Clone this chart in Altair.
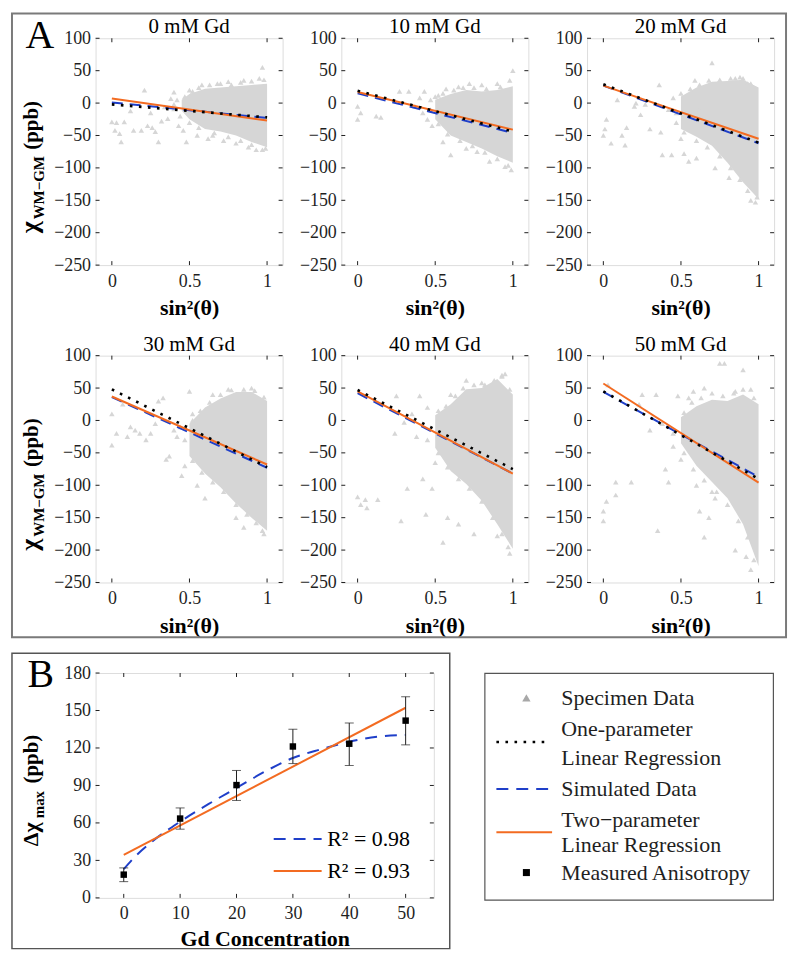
import altair as alt
import pandas as pd

FONT = "Liberation Serif"
GRAY = "#d6d6d6"
BLUE = "#1f3fc9"
ORANGE = "#f36b21"
INK = "#1f1f1f"

# ---------------- Panel A data ----------------
PANEL_TITLES = ["0 mM Gd", "10 mM Gd", "20 mM Gd", "30 mM Gd", "40 mM Gd", "50 mM Gd"]
X_TICKS = [0, 0.5, 1]
Y_TICKS = [-250, -200, -150, -100, -50, 0, 50, 100]

LINE_X = [0, 1]
ONE_PARAM_Y = [[-2, -22], [19, -44], [29, -61], [48, -72], [47, -75], [45, -90]]
SIMULATED_Y = [[1, -23], [15, -46], [27, -62], [36, -73], [42, -82], [44, -87]]
TWO_PARAM_Y = [[7, -27], [17, -41], [27, -55], [37, -68], [45, -82], [57, -96]]

# dense part of the specimen cloud: x, lower edge, upper edge
CLOUD_X = [
    [0.45, 0.5, 0.6, 0.7, 0.8, 0.9, 1.0],
    [0.5, 0.6, 0.7, 0.8, 0.9, 1.0],
    [0.5, 0.6, 0.7, 0.8, 0.9, 1.0],
    [0.5, 0.6, 0.7, 0.8, 0.9, 1.0],
    [0.5, 0.6, 0.7, 0.8, 0.9, 1.0],
    [0.5, 0.6, 0.7, 0.8, 0.9, 1.0],
]
CLOUD_LO = [
    [-12, -25, -40, -44, -50, -60, -68],
    [-25, -50, -60, -70, -82, -92],
    [-40, -52, -66, -92, -122, -148],
    [-55, -82, -103, -128, -150, -170],
    [-42, -78, -98, -124, -160, -198],
    [-35, -70, -95, -120, -160, -225],
]
CLOUD_HI = [
    [5, 14, 22, 24, 26, 28, 30],
    [5, 14, 20, 18, 20, 26],
    [10, 24, 33, 34, 36, 24],
    [-5, 20, 34, 44, 44, 30],
    [8, 25, 48, 50, 64, 40],
    [5, 22, 32, 30, 40, 25],
]
# scattered specimen triangles outside the dense part
SCATTER_X = [
    [0.0, 0.03, 0.08, 0.02, 0.05, 0.06, 0.14, 0.19, 0.21, 0.23, 0.26, 0.28, 0.30, 0.34, 0.36, 0.38,
     0.40, 0.40, 0.43, 0.46, 0.48, 0.12, 0.32, 0.25, 0.55, 0.62, 0.68, 0.75, 0.85, 0.93, 0.97, 0.99,
     0.58, 0.65, 0.72, 0.80, 0.88, 0.95, 0.50, 0.42],
    [0.0, 0.0, 0.02, 0.12, 0.15, 0.27, 0.33, 0.37, 0.40, 0.42, 0.45, 0.43, 0.47, 0.48, 0.55, 0.60,
     0.70, 0.77, 0.85, 0.57, 0.65, 0.72, 0.80, 0.95, 1.0, 0.99, 0.90, 0.52],
    [0.0, 0.01, 0.02, 0.05, 0.09, 0.12, 0.14, 0.15, 0.20, 0.21, 0.24, 0.27, 0.30, 0.36, 0.37, 0.38,
     0.42, 0.44, 0.47, 0.50, 0.52, 0.55, 0.60, 0.70, 0.72, 0.81, 0.59, 0.62, 0.45, 0.85, 0.90, 0.95,
     0.98, 0.93],
    [0.0, 0.0, 0.03, 0.07, 0.10, 0.12, 0.15, 0.18, 0.22, 0.25, 0.28, 0.30, 0.33, 0.35, 0.37, 0.40,
     0.42, 0.45, 0.50, 0.47, 0.55, 0.60, 0.80, 0.85, 0.65, 0.75, 0.90, 0.98, 0.52, 0.44],
    [0.0, 0.02, 0.05, 0.06, 0.13, 0.24, 0.25, 0.30, 0.32, 0.28, 0.38, 0.40, 0.42, 0.44, 0.48, 0.50,
     0.55, 0.58, 0.65, 0.70, 0.75, 0.95, 0.98, 0.90, 0.45, 0.35, 0.60, 0.80, 0.93],
    [0.0, 0.0, 0.02, 0.03, 0.08, 0.08, 0.18, 0.23, 0.25, 0.30, 0.34, 0.35, 0.38, 0.40, 0.42, 0.45,
     0.48, 0.55, 0.50, 0.60, 0.62, 0.65, 0.68, 0.72, 0.75, 0.78, 0.85, 0.90, 0.92, 0.95, 0.58, 0.65,
     0.70, 0.85, 0.95],
]
SCATTER_Y = [
    [-29, -30, -29, -42, -47, -60, -42, -42, 20, -35, -38, -44, -60, -6, -24, 7,
     17, -9, -35, -42, -60, -12, -28, -15, -50, -55, 30, 33, 35, -72, 55, -70,
     28, -50, -58, -62, -68, 38, 20, 5],
    [-5, -25, -15, -20, -22, 18, 18, -5, 8, -15, -25, 18, 5, -35, -60, -80,
     -70, -75, -90, 22, 25, 30, 28, -98, 50, -103, 30, 12],
    [-50, -40, -25, -62, 5, -50, -65, -38, -5, 0, -18, -2, -40, 28, -45, -80,
     -10, -80, -30, -55, -78, -90, -85, 62, -100, -115, 35, -10, 8, 38, 38, -150,
     -153, 30],
    [10, -38, -20, 25, -25, -10, -15, -20, -30, -20, -5, 30, 35, -60, -55, -15,
     -25, -85, 45, -70, -100, -120, -150, -165, 40, 48, 50, -175, 10, -10],
    [-118, -130, -122, -135, -122, -20, 38, -3, -105, -155, -25, 38, -90, -145, -105, -65,
     -188, -150, -160, 62, -175, 72, -205, -178, 20, 10, 40, 58, 68],
    [-140, -155, -125, 55, -95, -115, -95, 25, 40, -15, 40, -170, -5, -75, -95, -40,
     38, 35, -60, -100, -140, -180, -150, -120, 88, 88, -200, 78, -210, -230, 45, 50,
     -110, 45, 48],
]
# triangles along the ragged rim of the dense cloud
EDGE_X = [
    [0.47, 0.52, 0.56, 0.63, 0.70, 0.77, 0.83, 0.90, 0.98, 0.50, 0.56, 0.66, 0.75, 0.83, 0.90, 0.97, 0.44, 0.40],
    [0.50, 0.55, 0.62, 0.68, 0.75, 0.83, 0.92, 0.98, 0.52, 0.58, 0.66, 0.74, 0.82, 0.90, 0.97, 0.47],
    [0.50, 0.56, 0.62, 0.68, 0.75, 0.82, 0.88, 0.95, 0.52, 0.60, 0.67, 0.75, 0.82, 0.88, 0.93, 0.99, 0.47],
    [0.52, 0.57, 0.63, 0.70, 0.77, 0.85, 0.92, 0.98, 0.52, 0.58, 0.65, 0.72, 0.80, 0.87, 0.93, 0.97, 0.47],
    [0.52, 0.57, 0.63, 0.68, 0.75, 0.82, 0.88, 0.93, 0.98, 0.52, 0.58, 0.65, 0.72, 0.80, 0.87, 0.93, 0.97, 0.45],
    [0.52, 0.57, 0.63, 0.70, 0.77, 0.84, 0.90, 0.97, 0.52, 0.58, 0.65, 0.73, 0.80, 0.87, 0.93, 0.97, 0.45],
]
EDGE_Y = [
    [10, 18, 24, 28, 30, 28, 32, 34, 36, -30, -38, -46, -52, -58, -64, -72, -20, -2],
    [10, 15, 20, 24, 24, 22, 25, 35, -32, -48, -58, -66, -76, -86, -96, -10],
    [15, 22, 28, 35, 36, 38, 40, 30, -45, -58, -68, -82, -100, -118, -135, -145, -15],
    [0, 15, 28, 40, 47, 48, 46, 36, -62, -80, -95, -110, -130, -145, -158, -170, -30],
    [15, 22, 38, 50, 55, 55, 62, 70, 48, -50, -72, -90, -105, -125, -150, -175, -195, -30],
    [12, 28, 35, 42, 38, 42, 48, 35, -50, -75, -92, -110, -130, -155, -180, -215, -20],
]

# ---------------- Panel B data ----------------
B_CONC = [0, 10, 20, 30, 40, 50]
B_MEASURED = [18.6, 63.5, 90.3, 121.2, 123.4, 141.9]
B_ERR_LO = [13, 55, 78, 107.5, 106, 122.5]
B_ERR_HI = [24, 72, 102, 135, 140, 161]
B_TWO_X = [0, 50]
B_TWO_Y = [34.4, 152.2]
B_SIM_X = [0, 2, 5, 10, 15, 20, 25, 30, 35, 40, 45, 50]
B_SIM_Y = [23, 33, 45, 61, 75, 88, 101, 112, 119, 125, 129, 130.5]
B_X_TICKS = [0, 10, 20, 30, 40, 50]
B_Y_TICKS = [0, 30, 60, 90, 120, 150, 180]
R2_TEXT = ["R² = 0.98", "R² = 0.93"]
R2_Y = [47.2, 21.5]
R2_LINE_X = [26.6, 35.1]

# ---------------- legend data ----------------
LEGEND_TEXT = ["Specimen Data", "One-parameter", "Linear Regression", "Simulated Data",
               "Two−parameter", "Linear Regression", "Measured Anisotropy"]
LEGEND_ROW = [1, 2.05, 3.05, 4.1, 5.15, 6.0, 6.95]
LEGEND_SYMBOL_ROW = {"triangle": 1, "dotted": 2.5, "dashed": 4.1, "solid": 5.58, "square": 6.95}

W, H = 188, 228
XS = alt.Scale(domain=[-0.105, 1.1], nice=False, zero=False)
YS = alt.Scale(domain=[-250, 100], nice=False, zero=False)
ONE = pd.DataFrame({"k": [0]})


def axis_x(values, title, fmt, pad):
    return alt.Axis(values=values, format=fmt, title=title, titleFont=FONT, titleFontSize=22,
                    titleFontWeight="bold", titleColor="black", titlePadding=pad,
                    labelFont=FONT, labelFontSize=18, labelColor=INK, labelPadding=7,
                    ticks=False, domain=False, grid=False, labelFlush=False)


def axis_y(values):
    return alt.Axis(values=values, title=None, labelFont=FONT, labelFontSize=18, labelColor=INK,
                    labelPadding=5, ticks=False, domain=False, grid=False, labelFlush=False)


AX_A = axis_x(X_TICKS, "sin²(θ)", "~g", 8)
AY_A = axis_y(Y_TICKS)


def inward_ticks(xs, ys, ax, ay, xvals, yvals, w, h, L=4):
    tx = pd.DataFrame({"v": xvals})
    ty = pd.DataFrame({"v": yvals})
    out = []
    for y0, y1 in [(h, h - L), (0, L)]:
        out.append(alt.Chart(tx).mark_rule(color=INK, strokeWidth=1).encode(
            x=alt.X("v:Q", scale=xs, axis=ax), y=alt.value(y0), y2=alt.value(y1)))
    for x0, x1 in [(0, L), (w, w - L)]:
        out.append(alt.Chart(ty).mark_rule(color=INK, strokeWidth=1).encode(
            y=alt.Y("v:Q", scale=ys, axis=ay), x=alt.value(x0), x2=alt.value(x1)))
    return out


def seg(text, size, x, y, dx=0, dy=0, align="left", bold=True, angle=270):
    return alt.Chart(ONE).mark_text(
        text=text, font=FONT, fontSize=size, fontWeight="bold" if bold else "normal",
        angle=angle, align=align, baseline="alphabetic", dx=dx, dy=dy, color="black"
    ).encode(x=alt.value(x), y=alt.value(y))


def frame(x0, x1, y0, y1, color, width):
    return alt.Chart(ONE).mark_rect(fillOpacity=0, stroke=color, strokeWidth=width).encode(
        x=alt.value(x0), x2=alt.value(x1), y=alt.value(y0), y2=alt.value(y1))


def chi_title():
    base_x, base_y = -58, 196
    return [
        seg("χ", 26, base_x, base_y),
        seg("WM−GM", 15, base_x, base_y, dx=14, dy=6),
        seg("(ppb)", 21, base_x, base_y, dx=84),
    ]


def scatter_panel(i):
    env = pd.DataFrame({"x": CLOUD_X[i], "lo": CLOUD_LO[i], "hi": CLOUD_HI[i]})
    pts = pd.DataFrame({"x": SCATTER_X[i] + EDGE_X[i], "y": SCATTER_Y[i] + EDGE_Y[i]})
    lines = pd.DataFrame({"x": LINE_X, "one": ONE_PARAM_Y[i], "sim": SIMULATED_Y[i],
                          "two": TWO_PARAM_Y[i]})
    cloud = alt.Chart(env).mark_area(color=GRAY, orient="vertical", opacity=1).encode(
        x=alt.X("x:Q", scale=XS, axis=AX_A),
        y=alt.Y("lo:Q", scale=YS, axis=AY_A),
        y2="hi:Q")
    tri = alt.Chart(pts).mark_point(shape="triangle-up", filled=True, size=30, color=GRAY,
                                    opacity=1).encode(
        x=alt.X("x:Q", scale=XS, axis=AX_A), y=alt.Y("y:Q", scale=YS, axis=AY_A))
    sim = alt.Chart(lines).mark_line(color=BLUE, strokeWidth=2, strokeDash=[11, 7]).encode(
        x=alt.X("x:Q", scale=XS, axis=AX_A), y=alt.Y("sim:Q", scale=YS, axis=AY_A))
    two = alt.Chart(lines).mark_line(color=ORANGE, strokeWidth=2).encode(
        x=alt.X("x:Q", scale=XS, axis=AX_A), y=alt.Y("two:Q", scale=YS, axis=AY_A))
    one = alt.Chart(lines).mark_line(color="black", strokeWidth=2.6, strokeDash=[2.6, 6.5]).encode(
        x=alt.X("x:Q", scale=XS, axis=AX_A), y=alt.Y("one:Q", scale=YS, axis=AY_A))
    layers = [cloud, tri, sim, two, one] + inward_ticks(XS, YS, AX_A, AY_A, X_TICKS, Y_TICKS, W, H)
    if i in (0, 3):
        layers += chi_title()
    return alt.layer(*layers).properties(
        width=W, height=H,
        title=alt.TitleParams(PANEL_TITLES[i], font=FONT, fontSize=21, fontWeight="normal",
                              color="black", offset=-8))


# ---------------- Panel B ----------------
BW, BH = 340, 226
XB = alt.Scale(domain=[-5, 55], nice=False, zero=False)
YB = alt.Scale(domain=[0, 180], nice=False, zero=False)
AX_B = axis_x(B_X_TICKS, "Gd Concentration", "d", 6)
AY_B = axis_y(B_Y_TICKS)

meas = pd.DataFrame({"c": B_CONC, "m": B_MEASURED, "lo": B_ERR_LO, "hi": B_ERR_HI})
two_df = pd.DataFrame({"c": B_TWO_X, "v": B_TWO_Y})
sim_df = pd.DataFrame({"c": B_SIM_X, "v": B_SIM_Y})
r2_sim_df = pd.DataFrame({"c": R2_LINE_X, "v": [R2_Y[0]] * 2})
r2_two_df = pd.DataFrame({"c": R2_LINE_X, "v": [R2_Y[1]] * 2})
r2_text = pd.DataFrame({"c": [R2_LINE_X[1] + 1.0] * 2, "v": R2_Y, "t": R2_TEXT})


def bx(f="c"):
    return alt.X(f + ":Q", scale=XB, axis=AX_B)


def by(f):
    return alt.Y(f + ":Q", scale=YB, axis=AY_B)


b_sim = alt.Chart(sim_df).mark_line(color=BLUE, strokeWidth=2, strokeDash=[12, 8],
                                    interpolate="monotone").encode(x=bx(), y=by("v"))
b_two = alt.Chart(two_df).mark_line(color=ORANGE, strokeWidth=2).encode(x=bx(), y=by("v"))
b_err = alt.Chart(meas).mark_rule(color=INK, strokeWidth=1).encode(x=bx(), y=by("lo"), y2="hi:Q")
b_cap_lo = alt.Chart(meas).mark_tick(color=INK, thickness=1, size=9, orient="horizontal").encode(
    x=bx(), y=by("lo"))
b_cap_hi = alt.Chart(meas).mark_tick(color=INK, thickness=1, size=9, orient="horizontal").encode(
    x=bx(), y=by("hi"))
b_sq = alt.Chart(meas).mark_point(shape="square", filled=True, size=42, color="black",
                                  opacity=1).encode(x=bx(), y=by("m"))
r2_sim = alt.Chart(r2_sim_df).mark_line(color=BLUE, strokeWidth=2, strokeDash=[12, 8]).encode(
    x=bx(), y=by("v"))
r2_two = alt.Chart(r2_two_df).mark_line(color=ORANGE, strokeWidth=2).encode(x=bx(), y=by("v"))
r2_lbl = alt.Chart(r2_text).mark_text(font=FONT, fontSize=22, align="left", baseline="middle",
                                      color="black").encode(x=bx(), y=by("v"), text="t:N")

b_title = [
    seg("Δχ", 22, -58, 174),
    seg("max", 15, -58, 174, dx=28, dy=6),
    seg("(ppb)", 21, -58, 174, dx=63),
]
# frames of panel A and B, and the panel letters (positions relative to panel B's plot)
decor = [
    frame(-84, 694, -663, -36, "#7a7a7a", 2),
    seg("A", 40, -56, -628, bold=False, angle=0, align="center"),
    frame(-84, 356, -20, 277, "#555555", 1.5),
    seg("B", 40, -55, 14, bold=False, angle=0, align="center"),
]
panel_b = alt.layer(
    b_sim, b_two, b_err, b_cap_lo, b_cap_hi, b_sq, r2_sim, r2_two, r2_lbl,
    *inward_ticks(XB, YB, AX_B, AY_B, B_X_TICKS, B_Y_TICKS, BW, BH),
    *decor, *b_title,
).properties(width=BW, height=BH)

# ---------------- Legend box ----------------
LW, LH = 290, 228
XL = alt.Scale(domain=[0, 1], nice=False, zero=False)
YL = alt.Scale(domain=[0.153, 7.88], nice=False, zero=False, reverse=True)
leg_text = pd.DataFrame({"x": [0.266] * len(LEGEND_TEXT), "r": LEGEND_ROW, "t": LEGEND_TEXT})
leg_tri = pd.DataFrame({"x": [0.145], "r": [LEGEND_SYMBOL_ROW["triangle"]]})
leg_sq = pd.DataFrame({"x": [0.145], "r": [LEGEND_SYMBOL_ROW["square"]]})
leg_dot = pd.DataFrame({"x": [0.041, 0.224], "r": [LEGEND_SYMBOL_ROW["dotted"]] * 2})
leg_dash = pd.DataFrame({"x": [0.041, 0.224], "r": [LEGEND_SYMBOL_ROW["dashed"]] * 2})
leg_solid = pd.DataFrame({"x": [0.041, 0.234], "r": [LEGEND_SYMBOL_ROW["solid"]] * 2})


def lx():
    return alt.X("x:Q", scale=XL, axis=None)


def ly():
    return alt.Y("r:Q", scale=YL, axis=None)


legend = alt.layer(
    alt.Chart(leg_text).mark_text(font=FONT, fontSize=22, align="left", baseline="middle",
                                  color=INK).encode(x=lx(), y=ly(), text="t:N"),
    alt.Chart(leg_tri).mark_point(shape="triangle-up", filled=True, size=70, color="#a8a8a8",
                                  opacity=1).encode(x=lx(), y=ly()),
    alt.Chart(leg_sq).mark_point(shape="square", filled=True, size=50, color="black",
                                 opacity=1).encode(x=lx(), y=ly()),
    alt.Chart(leg_dot).mark_line(color="black", strokeWidth=2.6,
                                 strokeDash=[2.6, 6.5]).encode(x=lx(), y=ly()),
    alt.Chart(leg_dash).mark_line(color=BLUE, strokeWidth=2, strokeDash=[12, 8]).encode(
        x=lx(), y=ly()),
    alt.Chart(leg_solid).mark_line(color=ORANGE, strokeWidth=2).encode(x=lx(), y=ly()),
).properties(width=LW, height=LH, view=alt.ViewBackground(stroke="#555555", strokeWidth=1.2))

row1 = alt.hconcat(*[scatter_panel(i) for i in range(3)], spacing=59, bounds="flush")
row2 = alt.hconcat(*[scatter_panel(i) for i in range(3, 6)], spacing=59, bounds="flush")
row3 = alt.hconcat(panel_b, legend, spacing=51, bounds="flush")

# nested rows count as (almost) zero height under flush bounds: spacing ~ top-to-top distance
chart = alt.vconcat(row1, row2, row3, spacing=319, bounds="flush").properties(
    padding={"left": 2, "top": 1, "right": 4, "bottom": 4}
).configure_view(stroke=INK, strokeWidth=1).configure_axis(
    labelFont=FONT, titleFont=FONT
).configure(background="white")

chart.save("out.html", embed_options={"renderer": "svg", "actions": False})
